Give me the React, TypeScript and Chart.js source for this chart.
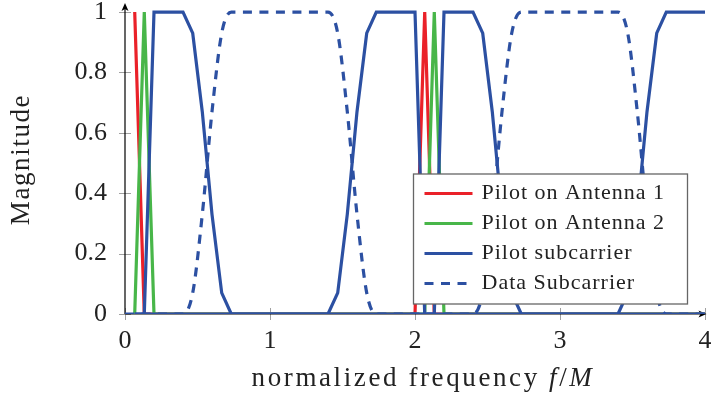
import React, { useEffect, useRef } from 'react';
import { Chart, registerables } from 'chart.js';

Chart.register(...registerables);

const FONT = '"Liberation Serif", "Times New Roman", serif';

const xTicks = [0, 1, 2, 3, 4];
const yTicks = [0, 0.2, 0.4, 0.6, 0.8, 1];

const seriesNames = ['Pilot on Antenna 1', 'Pilot on Antenna 2', 'Pilot subcarrier', 'Data Subcarrier'];
const seriesColors = ['#ea2129', '#48b649', '#2c50a2', '#2c50a2'];

const ant1X = [0.067, 0.133, 2.0, 2.067, 2.133, 4.0];
const ant1Y = [1, 0, 0, 1, 0, 0];

const ant2X = [0.067, 0.133, 0.2, 2.067, 2.133, 2.2, 4.0];
const ant2Y = [0, 1, 0, 0, 1, 0, 0];

const pilotX = [0.067, 0.133, 0.2, 0.4, 0.467, 0.533, 0.6, 0.667, 0.733, 1.4, 1.467, 1.533, 1.6, 1.667, 1.733, 2.0, 2.067, 2.133, 2.2, 2.4, 2.467, 2.533, 2.6, 2.667, 2.733, 3.4, 3.467, 3.533, 3.6, 3.667, 3.733, 4.0];
const pilotY = [0, 0, 1, 1, 0.93, 0.67, 0.33, 0.07, 0, 0, 0.07, 0.33, 0.67, 0.93, 1, 1, 0, 0, 1, 1, 0.93, 0.67, 0.33, 0.07, 0, 0, 0.07, 0.33, 0.67, 0.93, 1, 1];

// zero-level baseline of the subcarrier plot (drawn in blue over the pilots' zero segments)
const baseX = [0.067, 4.0];
const baseY = [0, 0];

const dataX = [0, 0.4, 0.467, 0.533, 0.6, 0.667, 0.733, 1.4, 1.467, 1.533, 1.6, 1.667, 1.733, 2.4, 2.467, 2.533, 2.6, 2.667, 2.733, 3.4, 3.467, 3.533, 3.6, 3.667, 3.733, 4.0];
const dataY = [0, 0, 0.07, 0.33, 0.67, 0.93, 1, 1, 0.93, 0.67, 0.33, 0.07, 0, 0, 0.07, 0.33, 0.67, 0.93, 1, 1, 0.93, 0.67, 0.33, 0.07, 0, 0];

const zip = (xs: number[], ys: number[]) => xs.map((x, i) => ({ x, y: ys[i] }));

const decor = {
  id: 'decor',
  beforeDatasetsDraw(chart: any) {
    const { ctx, chartArea: ca, scales } = chart;
    const x = scales.x, y = scales.y;
    const line = (x1: number, y1: number, x2: number, y2: number) => {
      ctx.beginPath(); ctx.moveTo(x1, y1); ctx.lineTo(x2, y2); ctx.stroke();
    };
    ctx.save();
    ctx.strokeStyle = '#a0a0a0';
    ctx.lineWidth = 1;
    xTicks.forEach((v) => { const px = Math.round(x.getPixelForValue(v)) + 0.5; line(px, ca.bottom - 6, px, ca.bottom + 6); });
    yTicks.forEach((v) => { const py = Math.round(y.getPixelForValue(v)) + 0.5; line(ca.left - 6, py, ca.left + 6, py); });
    ctx.strokeStyle = '#000';
    ctx.fillStyle = '#000';
    ctx.lineWidth = 1.2;
    const ax = ca.left;
    const ay = ca.bottom;
    line(ax, ay, ax, ca.top + 5);
    line(ax, ay, ca.right - 3, ay);
    ctx.beginPath();
    ctx.moveTo(ax, ca.top);
    ctx.lineTo(ax + 3.5, ca.top + 8);
    ctx.lineTo(ax, ca.top + 6);
    ctx.lineTo(ax - 3.5, ca.top + 8);
    ctx.closePath();
    ctx.fill();
    const tip = ca.right + 1.5;
    ctx.beginPath();
    ctx.moveTo(tip, ay);
    ctx.lineTo(tip - 8, ay - 3.5);
    ctx.lineTo(tip - 6, ay);
    ctx.lineTo(tip - 8, ay + 3.5);
    ctx.closePath();
    ctx.fill();
    ctx.restore();
  },
  afterDatasetsDraw(chart: any) {
    const { ctx, chartArea: ca } = chart;
    ctx.save();
    const boxR = ca.right - 17.5;
    const boxB = ca.bottom - 10;
    const boxW = 274;
    const boxH = 130;
    const boxL = boxR - boxW;
    const boxT = boxB - boxH;
    ctx.fillStyle = '#fff';
    ctx.fillRect(boxL, boxT, boxW, boxH);
    ctx.strokeStyle = '#666';
    ctx.lineWidth = 1.3;
    ctx.strokeRect(boxL, boxT, boxW, boxH);
    ctx.font = `22px ${FONT}`;
    (ctx as any).letterSpacing = '1px';
    ctx.textBaseline = 'middle';
    ctx.textAlign = 'left';
    seriesNames.forEach((name, i) => {
      const cy = boxT + 19.5 + i * 30;
      ctx.strokeStyle = seriesColors[i];
      ctx.lineWidth = 3.2;
      ctx.setLineDash(i === 3 ? [9, 7.5] : []);
      ctx.beginPath();
      ctx.moveTo(boxL + 11, cy);
      ctx.lineTo(boxL + 59, cy);
      ctx.stroke();
      ctx.setLineDash([]);
      ctx.fillStyle = '#222';
      ctx.fillText(name, boxL + 68, cy);
    });
    const fs = 27;
    ctx.font = `${fs}px ${FONT}`;
    (ctx as any).letterSpacing = '2.6px';
    const p1 = 'normalized frequency ';
    const w1 = ctx.measureText(p1).width;
    ctx.font = `italic ${fs}px ${FONT}`;
    const wf = ctx.measureText('f').width;
    const wM = ctx.measureText('M').width;
    ctx.font = `${fs}px ${FONT}`;
    const ws = ctx.measureText('/').width;
    const total = w1 + wf + ws + wM;
    let sx = (ca.left + ca.right) / 2 + 8 - total / 2;
    const ty = 379;
    ctx.fillStyle = '#222';
    ctx.fillText(p1, sx, ty); sx += w1;
    ctx.font = `italic ${fs}px ${FONT}`;
    ctx.fillText('f', sx, ty); sx += wf;
    ctx.font = `${fs}px ${FONT}`;
    ctx.fillText('/', sx, ty); sx += ws;
    ctx.font = `italic ${fs}px ${FONT}`;
    ctx.fillText('M', sx, ty);
    ctx.font = `${fs}px ${FONT}`;
    (ctx as any).letterSpacing = '1.6px';
    ctx.translate(22, (ca.top + ca.bottom) / 2 + 1);
    ctx.rotate(-Math.PI / 2);
    ctx.textAlign = 'center';
    ctx.fillText('Magnitude', 0, 0);
    ctx.restore();
  },
};

export default function App() {
  const ref = useRef<HTMLCanvasElement | null>(null);
  useEffect(() => {
    if (!ref.current) return;
    const mk = (i: number, xs: number[], ys: number[], extra: any = {}) => ({
      label: seriesNames[i],
      data: zip(xs, ys),
      borderColor: seriesColors[i],
      backgroundColor: seriesColors[i],
      borderWidth: 3.2,
      pointRadius: 0,
      fill: false,
      tension: 0,
      ...extra,
    });
    const chart = new Chart(ref.current, {
      type: 'line',
      data: {
        datasets: [
          mk(3, dataX, dataY, { borderDash: [9, 7.5], cubicInterpolationMode: 'monotone', order: 0 }),
          mk(2, pilotX, pilotY, { order: 1 }),
          mk(2, baseX, baseY, { order: 2 }),
          mk(1, ant2X, ant2Y, { order: 3 }),
          mk(0, ant1X, ant1Y, { order: 4 }),
        ],
      },
      options: {
        responsive: false,
        animation: false,
        layout: { padding: { top: 3, right: 6, left: 0, bottom: 0 } },
        plugins: { legend: { display: false }, tooltip: { enabled: false } },
        scales: {
          x: {
            type: 'linear',
            min: 0,
            max: 4,
            afterFit: (s: any) => { s.height = 86; s.paddingLeft = 0; s.paddingRight = 0; },
            afterBuildTicks: (s: any) => { s.ticks = xTicks.map((v) => ({ value: v })); },
            ticks: {
              font: { family: FONT, size: 26 },
              color: '#222',
              padding: 12,
              maxRotation: 0,
              autoSkip: false,
              callback: (v: any) => String(v),
            },
            grid: { display: false, drawTicks: false },
            border: { display: false },
          },
          y: {
            type: 'linear',
            min: 0,
            max: 1.03,
            afterFit: (s: any) => { s.width = 125; s.paddingTop = 0; s.paddingBottom = 0; },
            afterBuildTicks: (s: any) => { s.ticks = yTicks.map((v) => ({ value: v })); },
            ticks: {
              font: { family: FONT, size: 26, lineHeight: 0.2 },
              color: '#222',
              padding: 18,
              autoSkip: false,
              callback: (v: any) => String(v),
            },
            grid: { display: false, drawTicks: false },
            border: { display: false },
          },
        },
      },
      plugins: [decor],
    } as any);
    return () => chart.destroy();
  }, []);
  return (
    <div style={{ position: 'absolute', left: 0, top: 0, width: 711, height: 400 }}>
      <canvas ref={ref} width={711} height={400} style={{ display: 'block' }} />
    </div>
  );
}
